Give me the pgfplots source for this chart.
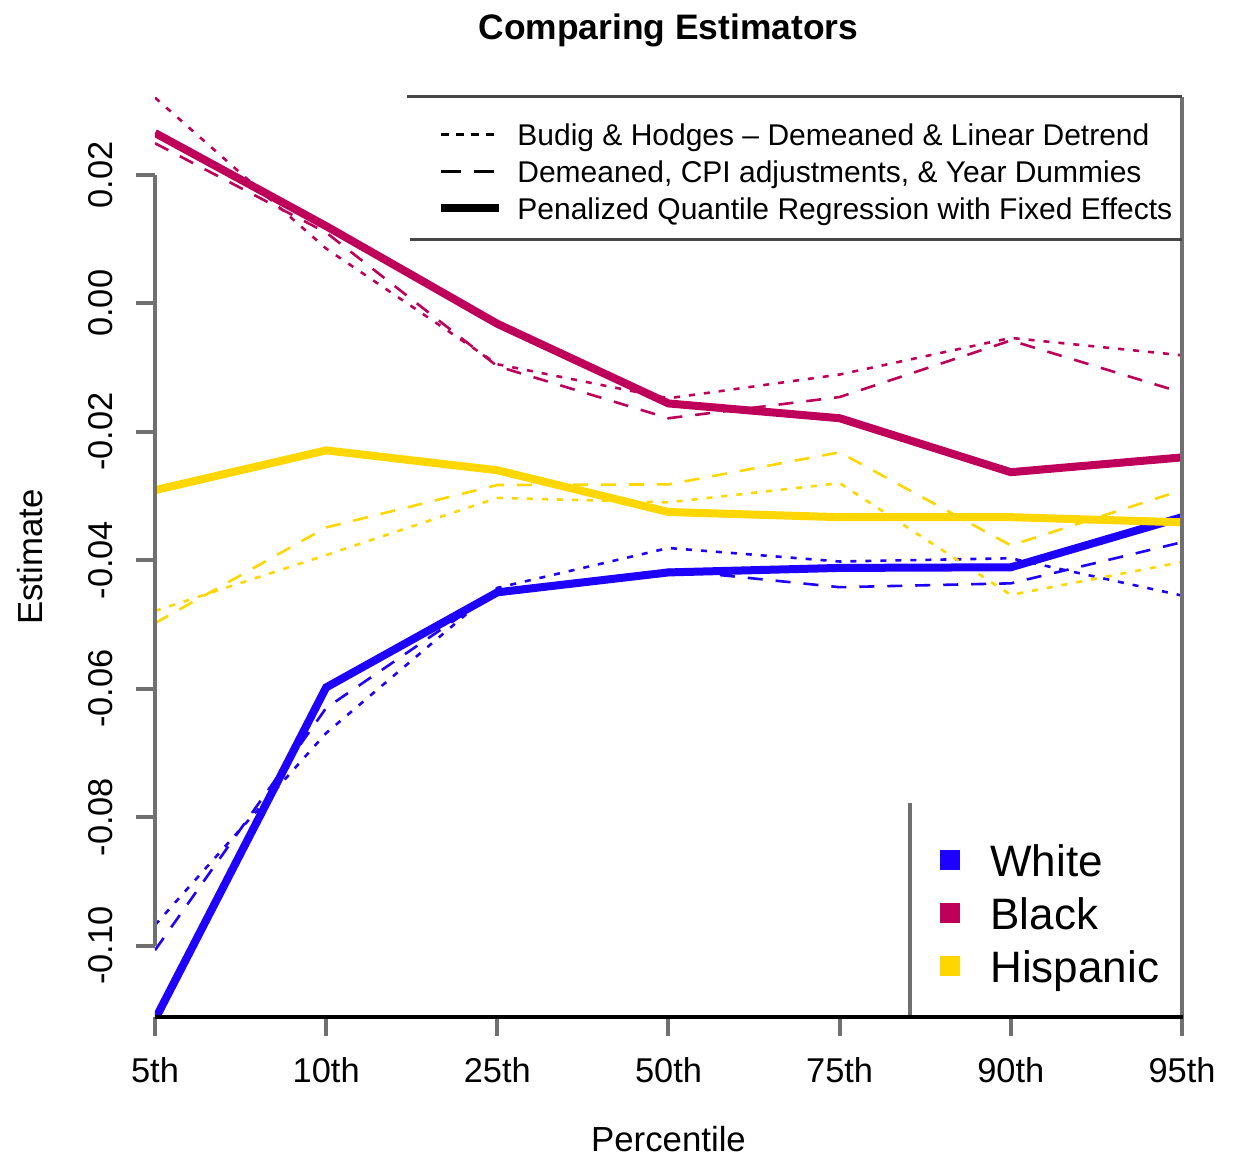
\documentclass[border=0pt]{standalone}
\usepackage{fontspec}
\setmainfont{Liberation Sans}
\usepackage{pgfplots}
\usepackage{pgfplotstable}
\pgfplotsset{compat=1.18}

\definecolor{wblue}{RGB}{30,0,255}
\definecolor{bmag}{RGB}{190,0,90}
\definecolor{hyel}{RGB}{255,215,0}
\definecolor{axgrey}{RGB}{112,112,112}
\definecolor{boxgrey}{RGB}{70,70,70}

% columns: bh = Budig & Hodges (dotted), dm = demeaned/CPI (dashed), pq = penalized QR (solid)
\pgfplotstableread{
x   bh      dm      pq
0  -0.0968 -0.1007 -0.1115
1  -0.0669 -0.0630 -0.0598
2  -0.0443 -0.0448 -0.0450
3  -0.0381 -0.0415 -0.0419
4  -0.0402 -0.0442 -0.0412
5  -0.0397 -0.0436 -0.0411
6  -0.0455 -0.0372 -0.0333
}\white
\pgfplotstableread{
x   bh      dm      pq
0   0.0320  0.0249  0.0265
1   0.0085  0.0110  0.0120
2  -0.0095 -0.0098 -0.0032
3  -0.0148 -0.0179 -0.0156
4  -0.0111 -0.0146 -0.0179
5  -0.0054 -0.0058 -0.0263
6  -0.0081 -0.0139 -0.0240
}\black
\pgfplotstableread{
x   bh      dm      pq
0  -0.0479 -0.0498 -0.0291
1  -0.0392 -0.0349 -0.0229
2  -0.0303 -0.0283 -0.0260
3  -0.0310 -0.0282 -0.0325
4  -0.0280 -0.0232 -0.0333
5  -0.0454 -0.0377 -0.0333
6  -0.0403 -0.0291 -0.0341
}\hisp

\pgfplotsset{
  bh/.style={line width=1.3pt, dash pattern=on 3pt off 4.5pt},
  dm/.style={line width=1.3pt, dash pattern=on 7.5pt off 6.5pt},
  pq/.style={line width=4pt},
  frame/.style={at={(0,0)}, anchor=south west, scale only axis,
    width=513.5pt, height=460pt,
    xmin=0, xmax=6, ymin=-0.1111, ymax=0.0321},
}

\begin{document}
\begin{tikzpicture}
\useasboundingbox (-77.5pt,-70.5pt) rectangle (539pt,508.5pt);

\begin{axis}[
  frame,
  axis line style={draw=none},
  tick align=outside,
  xtick pos=bottom, ytick pos=left,
  major tick length=9.5pt,
  tick style={axgrey, line width=2pt},
  xtick={0,1,2,3,4,5,6},
  xticklabels={5th,10th,25th,50th,75th,90th,95th},
  ytick={-0.10,-0.08,-0.06,-0.04,-0.02,0,0.02},
  yticklabels={-0.10,-0.08,-0.06,-0.04,-0.02,0.00,0.02},
  ticklabel style={font=\fontsize{17.2}{20}\selectfont},
  xticklabel style={anchor=base},
  xticklabel shift=23pt,
  yticklabel style={rotate=90, anchor=base},
  yticklabel shift=11.5pt,
  title={Comparing Estimators},
  title style={at={(axis description cs:0.5,1.0495)}, anchor=base,
    font=\bfseries\fontsize{17.7}{20}\selectfont},
  xlabel={Percentile},
  xlabel style={at={(axis description cs:0.5,-0.1467)}, anchor=base,
    font=\fontsize{17.4}{20}\selectfont},
  ylabel={Estimate},
  ylabel style={at={(axis description cs:-0.1095,0.5)}, rotate=0, anchor=base,
    font=\fontsize{17.4}{20}\selectfont},
  legend style={at={(axis description cs:0.2746,0.9721)}, anchor=north west,
    draw=none, fill=none, inner sep=0pt, row sep=4pt, column sep=0pt,
    font=\fontsize{15}{18}\selectfont,
    nodes={inner sep=0pt, text height=11pt, text depth=3.5pt}},
  legend cell align=left,
  legend image code/.code={\path[draw=none, fill=none] (0pt,0pt) -- (38pt,0pt);
    \draw[#1] (0pt,1.6pt) -- (29pt,1.6pt);},
]
\addlegendimage{black, line width=1.3pt, dash pattern=on 4pt off 3.5pt}
\addlegendimage{black, line width=1.3pt, dash pattern=on 10pt off 6.5pt}
\addlegendimage{black, line width=4pt}

\addplot[wblue, bh] table[x=x, y=bh] {\white};
\addplot[wblue, dm] table[x=x, y=dm] {\white};
\addplot[bmag, bh] table[x=x, y=bh] {\black};
\addplot[bmag, dm] table[x=x, y=dm] {\black};
\addplot[hyel, bh] table[x=x, y=bh] {\hisp};
\addplot[hyel, dm] table[x=x, y=dm] {\hisp};
\addplot[wblue, pq] table[x=x, y=pq] {\white};
\addplot[bmag, pq] table[x=x, y=pq] {\black};
\addplot[hyel, pq] table[x=x, y=pq] {\hisp};

\legend{Budig \& Hodges -- Demeaned \& Linear Detrend,
  {Demeaned, CPI adjustments, \& Year Dummies},
  Penalized Quantile Regression with Fixed Effects}
\end{axis}

% colour key
\begin{axis}[
  frame, hide axis,
  legend style={at={(axis description cs:0.7644,0.18826)}, anchor=north west,
    draw=none, fill=none, inner sep=0pt, row sep=5.5pt, column sep=0pt,
    font=\fontsize{22}{26}\selectfont,
    nodes={inner sep=0pt, text height=16pt, text depth=5pt}},
  legend cell align=left,
  legend image code/.code={\path[draw=none, fill=none] (0pt,0pt) -- (25pt,0pt);
    \fill[#1] (0pt,-2.6pt) rectangle (10pt,7.4pt);},
]
\addlegendimage{draw=none, fill=wblue}
\addlegendentry{White}
\addlegendimage{draw=none, fill=bmag}
\addlegendentry{Black}
\addlegendimage{draw=none, fill=hyel}
\addlegendentry{Hispanic}
\end{axis}

% frame pieces, in pixel units of the reference
\begin{scope}[x=0.5pt, y=-0.5pt, shift={(-155,-1017)}]
\draw[axgrey, line width=2.2pt] (155,175) -- (155,946);
\draw[axgrey, line width=2pt] (1182,97) -- (1182,1017);
\draw[boxgrey, line width=1.5pt] (407,97) -- (1182,97);
\draw[boxgrey, line width=1.5pt] (410,240) -- (1182,240);
\draw[axgrey, line width=2pt] (910,803) -- (910,1017);
\draw[black, line width=2pt] (155,1017) -- (1183,1017);
\end{scope}
\end{tikzpicture}
\end{document}
